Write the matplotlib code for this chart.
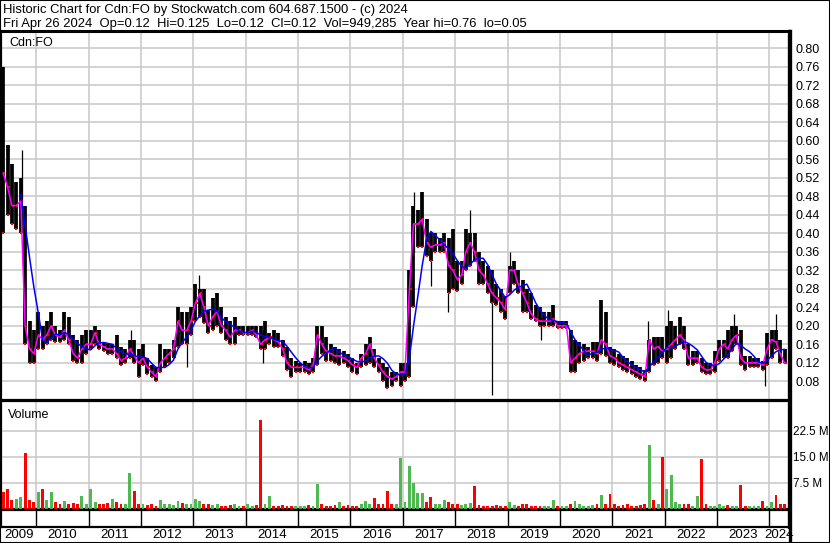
import pandas as pd
import matplotlib
matplotlib.use('Agg')
import matplotlib.pyplot as plt
from matplotlib.patches import Rectangle

plt.rcParams['font.family'] = ['Liberation Sans', 'DejaVu Sans']

# monthly bars, May 2009 .. Apr 2024
months = pd.date_range('2009-05-01', '2024-04-01', freq='MS') + pd.Timedelta(days=14)

price_hi = [
    0.76, 0.59, 0.55, 0.51, 0.52, 0.46, 0.21, 0.19,                            # 2009
    0.23, 0.20, 0.21, 0.23, 0.20, 0.19, 0.23, 0.22, 0.18, 0.17, 0.18, 0.19,    # 2010
    0.19, 0.20, 0.19, 0.165, 0.16, 0.16, 0.18, 0.155, 0.15, 0.17, 0.17, 0.15,  # 2011
    0.16, 0.13, 0.115, 0.11, 0.16, 0.15, 0.15, 0.17, 0.24, 0.23, 0.23, 0.24,   # 2012
    0.29, 0.28, 0.28, 0.235, 0.26, 0.27, 0.24, 0.22, 0.21, 0.22, 0.20, 0.20,   # 2013
    0.20, 0.20, 0.20, 0.20, 0.21, 0.185, 0.19, 0.185, 0.17, 0.155, 0.13, 0.125,  # 2014
    0.12, 0.125, 0.12, 0.13, 0.20, 0.20, 0.175, 0.16, 0.155, 0.15, 0.145, 0.14,  # 2015
    0.13, 0.12, 0.14, 0.16, 0.175, 0.15, 0.13, 0.12, 0.11, 0.10, 0.10, 0.12,   # 2016
    0.12, 0.32, 0.46, 0.45, 0.49, 0.43, 0.40, 0.40, 0.39, 0.40, 0.39, 0.41,    # 2017
    0.34, 0.34, 0.41, 0.40, 0.40, 0.36, 0.34, 0.33, 0.32, 0.29, 0.28, 0.265,   # 2018
    0.33, 0.34, 0.32, 0.30, 0.28, 0.27, 0.245, 0.24, 0.23, 0.23, 0.245, 0.21,  # 2019
    0.21, 0.21, 0.19, 0.17, 0.165, 0.16, 0.155, 0.165, 0.165, 0.255, 0.23, 0.155,  # 2020
    0.15, 0.14, 0.135, 0.13, 0.125, 0.115, 0.11, 0.105, 0.17, 0.175, 0.175, 0.175,  # 2021
    0.20, 0.21, 0.20, 0.22, 0.20, 0.16, 0.145, 0.145, 0.13, 0.12, 0.12, 0.145,  # 2022
    0.17, 0.17, 0.19, 0.20, 0.20, 0.19, 0.135, 0.135, 0.13, 0.13, 0.125, 0.185,  # 2023
    0.19, 0.19, 0.17, 0.15,                                                    # 2024
]
price_lo = [
    0.40, 0.44, 0.42, 0.41, 0.40, 0.16, 0.12, 0.12,
    0.15, 0.15, 0.16, 0.17, 0.165, 0.165, 0.17, 0.16, 0.125, 0.12, 0.12, 0.14,
    0.15, 0.16, 0.15, 0.145, 0.14, 0.14, 0.13, 0.115, 0.12, 0.13, 0.12, 0.09,
    0.115, 0.095, 0.09, 0.08, 0.10, 0.11, 0.12, 0.13, 0.155, 0.16, 0.16, 0.18,
    0.21, 0.22, 0.205, 0.185, 0.19, 0.20, 0.185, 0.17, 0.16, 0.16, 0.18, 0.18,
    0.18, 0.18, 0.175, 0.15, 0.15, 0.16, 0.155, 0.155, 0.135, 0.105, 0.09, 0.10,
    0.10, 0.10, 0.095, 0.10, 0.115, 0.14, 0.125, 0.125, 0.12, 0.115, 0.12, 0.11,
    0.10, 0.095, 0.11, 0.115, 0.12, 0.11, 0.10, 0.08, 0.065, 0.07, 0.08, 0.07,
    0.08, 0.09, 0.24, 0.37, 0.37, 0.35, 0.34, 0.36, 0.36, 0.36, 0.27, 0.28,
    0.275, 0.29, 0.32, 0.33, 0.34, 0.29, 0.29, 0.27, 0.25, 0.245, 0.23, 0.215,
    0.27, 0.29, 0.27, 0.23, 0.23, 0.215, 0.21, 0.20, 0.20, 0.20, 0.20, 0.195,
    0.195, 0.195, 0.10, 0.10, 0.12, 0.125, 0.13, 0.13, 0.125, 0.14, 0.135, 0.12,
    0.115, 0.11, 0.105, 0.10, 0.095, 0.09, 0.085, 0.08, 0.10, 0.115, 0.12, 0.13,
    0.12, 0.13, 0.15, 0.16, 0.15, 0.115, 0.115, 0.12, 0.10, 0.095, 0.095, 0.10,
    0.125, 0.13, 0.13, 0.145, 0.16, 0.115, 0.105, 0.11, 0.11, 0.11, 0.105, 0.115,
    0.13, 0.15, 0.12, 0.12,
]
price_close = [
    0.53, 0.50, 0.46, 0.46, 0.47, 0.20, 0.15, 0.14,
    0.18, 0.17, 0.18, 0.20, 0.18, 0.175, 0.19, 0.17, 0.14, 0.13, 0.15, 0.16,
    0.16, 0.185, 0.16, 0.155, 0.15, 0.15, 0.14, 0.125, 0.13, 0.15, 0.135, 0.12,
    0.13, 0.11, 0.10, 0.09, 0.12, 0.13, 0.14, 0.15, 0.21, 0.19, 0.19, 0.21,
    0.25, 0.27, 0.24, 0.20, 0.22, 0.23, 0.20, 0.19, 0.175, 0.19, 0.19, 0.185,
    0.185, 0.19, 0.18, 0.16, 0.17, 0.175, 0.17, 0.165, 0.15, 0.12, 0.11, 0.11,
    0.11, 0.11, 0.105, 0.115, 0.18, 0.16, 0.145, 0.14, 0.135, 0.135, 0.13, 0.125,
    0.115, 0.11, 0.13, 0.14, 0.16, 0.13, 0.115, 0.10, 0.09, 0.085, 0.09, 0.10,
    0.10, 0.28, 0.42, 0.42, 0.43, 0.38, 0.37, 0.375, 0.375, 0.38, 0.33, 0.32,
    0.30, 0.31, 0.36, 0.38, 0.36, 0.32, 0.31, 0.29, 0.27, 0.26, 0.25, 0.235,
    0.32, 0.32, 0.29, 0.27, 0.25, 0.225, 0.215, 0.21, 0.21, 0.21, 0.215, 0.20,
    0.20, 0.20, 0.12, 0.13, 0.14, 0.145, 0.145, 0.145, 0.14, 0.17, 0.16, 0.135,
    0.13, 0.12, 0.115, 0.11, 0.105, 0.10, 0.095, 0.09, 0.17, 0.15, 0.155, 0.145,
    0.15, 0.16, 0.17, 0.18, 0.17, 0.13, 0.13, 0.13, 0.11, 0.105, 0.105, 0.12,
    0.15, 0.16, 0.15, 0.17, 0.18, 0.13, 0.12, 0.12, 0.12, 0.12, 0.115, 0.15,
    0.17, 0.165, 0.14, 0.12,
]

# single-day spikes sticking out of the monthly range
wick_dates = pd.to_datetime([
    '2009-09-21', '2011-10-24', '2012-11-20', '2013-02-12', '2014-04-28',
    '2017-03-20', '2017-07-19', '2017-11-14', '2018-04-16', '2018-09-14',
    '2019-01-18', '2019-08-23', '2021-09-08', '2022-01-25', '2023-04-28',
    '2023-11-29', '2024-02-16'])
wick_lo = [0.47, 0.15, 0.11, 0.25, 0.12, 0.36, 0.285, 0.23, 0.38, 0.05,
           0.31, 0.17, 0.12, 0.16, 0.17, 0.07, 0.17]
wick_hi = [0.58, 0.19, 0.18, 0.31, 0.19, 0.49, 0.36, 0.30, 0.45, 0.30,
           0.36, 0.22, 0.21, 0.235, 0.225, 0.12, 0.225]

# peak daily volume in each month, millions
volume = [
    4.8, 5.7, 2.5, 3.0, 3.5, 16.2, 2.5, 2.0,
    4.8, 5.6, 2.5, 5.0, 2.0, 1.5, 2.3, 1.5, 1.8, 1.5, 3.7, 1.5,
    5.7, 2.0, 1.5, 1.5, 1.8, 3.0, 2.0, 1.5, 1.5, 10.2, 5.2, 1.5,
    1.5, 1.2, 1.5, 1.0, 2.5, 1.5, 1.5, 1.2, 2.3, 1.8, 1.5, 1.5,
    3.0, 2.3, 1.5, 1.5, 1.2, 1.5, 1.0, 1.0, 1.2, 1.5, 1.0, 1.0,
    1.5, 1.0, 1.2, 25.5, 1.5, 3.7, 1.0, 1.0, 1.2, 1.0, 0.8, 0.8,
    0.8, 1.0, 1.2, 1.0, 7.2, 1.5, 1.0, 1.0, 1.2, 2.0, 1.0, 1.2,
    1.0, 1.0, 1.5, 2.3, 1.5, 3.2, 1.5, 1.5, 5.2, 1.5, 1.5, 14.5,
    2.0, 12.3, 7.5, 4.6, 4.6, 2.0, 3.5, 1.5, 1.5, 2.5, 2.0, 1.5,
    1.5, 1.2, 1.5, 1.8, 6.7, 1.2, 1.0, 1.0, 1.0, 1.2, 1.0, 0.8,
    2.0, 1.2, 1.0, 1.5, 1.5, 1.0, 1.0, 1.0, 1.0, 1.0, 2.5, 1.0,
    1.0, 1.0, 1.5, 2.3, 1.5, 1.0, 1.0, 1.2, 1.5, 4.0, 1.5, 4.2,
    1.5, 1.0, 1.2, 1.5, 1.0, 1.0, 1.2, 1.5, 18.3, 2.5, 1.5, 14.8,
    5.6, 9.7, 2.0, 1.5, 1.5, 1.5, 1.0, 3.7, 14.3, 1.5, 1.0, 1.0,
    1.5, 1.0, 1.2, 1.0, 1.0, 6.9, 1.0, 0.8, 1.0, 1.0, 2.3, 1.0,
    2.0, 4.0, 1.5, 1.5,
]

price_ticks = [0.08, 0.12, 0.16, 0.20, 0.24, 0.28, 0.32, 0.36, 0.40, 0.44,
               0.48, 0.52, 0.56, 0.60, 0.64, 0.68, 0.72, 0.76, 0.80]
vol_ticks = [7.5, 15.0, 22.5]
years = list(range(2009, 2025))

header1 = 'Historic Chart for Cdn:FO by Stockwatch.com 604.687.1500 - (c) 2024'
header2 = 'Fri Apr 26 2024  Op=0.12  Hi=0.125  Lo=0.12  Cl=0.12  Vol=949,285  Year hi=0.76  lo=0.05'

df = pd.DataFrame({'hi': price_hi, 'lo': price_lo, 'close': price_close,
                   'vol': volume}, index=months)
df['ma_long'] = df['close'].rolling(5).mean()
up = df['close'].diff().fillna(-1) >= 0
vol_colors = ['#50b850' if u else '#ff0000' for u in up]

W, H = 830, 543
fig = plt.figure(figsize=(W / 100, H / 100), dpi=100)


def px_axes(x0, y0, x1, y1):
    return fig.add_axes([x0 / W, 1 - y1 / H, (x1 - x0) / W, (y1 - y0) / H])


ax = px_axes(1, 31, 789, 400)
axv = px_axes(1, 401, 789, 509)
axs = px_axes(1, 510, 789, 527)

x_left = pd.Timestamp('2009-04-30')
x_right = pd.Timestamp('2024-05-16')
year_starts = [pd.Timestamp(f'{y}-01-01') for y in years[1:]]
grid_c = '#c8c8c8'

for a in (ax, axv, axs):
    a.set_xlim(x_left, x_right)
    a.set_xticks(year_starts)
    a.tick_params(axis='x', length=0, labelbottom=False)
    for s in a.spines.values():
        s.set_color('black')
        s.set_linewidth(1.6)
    a.spines['right'].set_linewidth(2.4)

# price panel
ax.set_ylim(0.0396, 0.8374)
ax.set_yticks(price_ticks)
ax.set_yticklabels([f'{t:.2f}' for t in price_ticks])
ax.yaxis.tick_right()
ax.tick_params(axis='y', length=0, pad=5, labelsize=9)
ax.grid(True, color=grid_c, lw=1.1)
ax.set_axisbelow(True)
ax.spines['top'].set_linewidth(2.2)

ax.vlines(wick_dates, wick_lo, wick_hi, color='black', lw=0.9, zorder=3)
ax.vlines(df.index, df['lo'], df['hi'], color='black', lw=2.7, zorder=3)
ax.plot(df.index, df['lo'], 's', color='#ff0000', ms=1.7, mew=0, zorder=4)
ax.plot(df.index + pd.Timedelta(days=8), df['close'], 's', color='#ff0000',
        ms=1.7, mew=0, zorder=4)
ax.plot(df.index, df['close'], color='#ff00ff', lw=1.1, zorder=5)
ax.plot(df.index, df['ma_long'], color='#0000ff', lw=1.1, zorder=6)
ax.text(0.011, 0.985, 'Cdn:FO', transform=ax.transAxes, ha='left', va='top',
        fontsize=9)

# volume panel
axv.set_ylim(0, 31.0)
axv.set_yticks(vol_ticks)
axv.set_yticklabels([f'{t:.1f} M' for t in vol_ticks])
axv.yaxis.tick_right()
axv.tick_params(axis='y', length=0, pad=3, labelsize=8.4)
axv.grid(True, color=grid_c, lw=1.1)
axv.set_axisbelow(True)
axv.bar(df.index, df['vol'], width=20, color=vol_colors, zorder=3)
axv.text(0.009, 0.93, 'Volume', transform=axv.transAxes, ha='left', va='top',
         fontsize=9)

# year strip
axs.set_ylim(0, 1)
axs.set_yticks([])
for d in year_starts:
    axs.axvline(d, color='black', lw=1.0)
for y in years:
    a0 = max(pd.Timestamp(f'{y}-01-01'), x_left)
    a1 = min(pd.Timestamp(f'{y + 1}-01-01'), x_right)
    mid = a0 + (a1 - a0) / 2
    axs.text(mid, -0.5, str(y), transform=axs.get_xaxis_transform(),
             ha='center', va='center', fontsize=9.5, clip_on=False)

# header and outer frame
fig.text(3 / W, 1 - 4 / H, header1, ha='left', va='top', fontsize=9.4)
fig.text(3 / W, 1 - 18 / H, header2, ha='left', va='top', fontsize=9.4)
fig.add_artist(plt.Line2D([789.5 / W, 789.5 / W], [0, 1 - 31 / H],
                          color='black', lw=2.4))
fig.add_artist(Rectangle((0, 0), 1, 1, transform=fig.transFigure,
                         fill=False, ec='black', lw=1.5))

fig.savefig('out.png', dpi=100)
